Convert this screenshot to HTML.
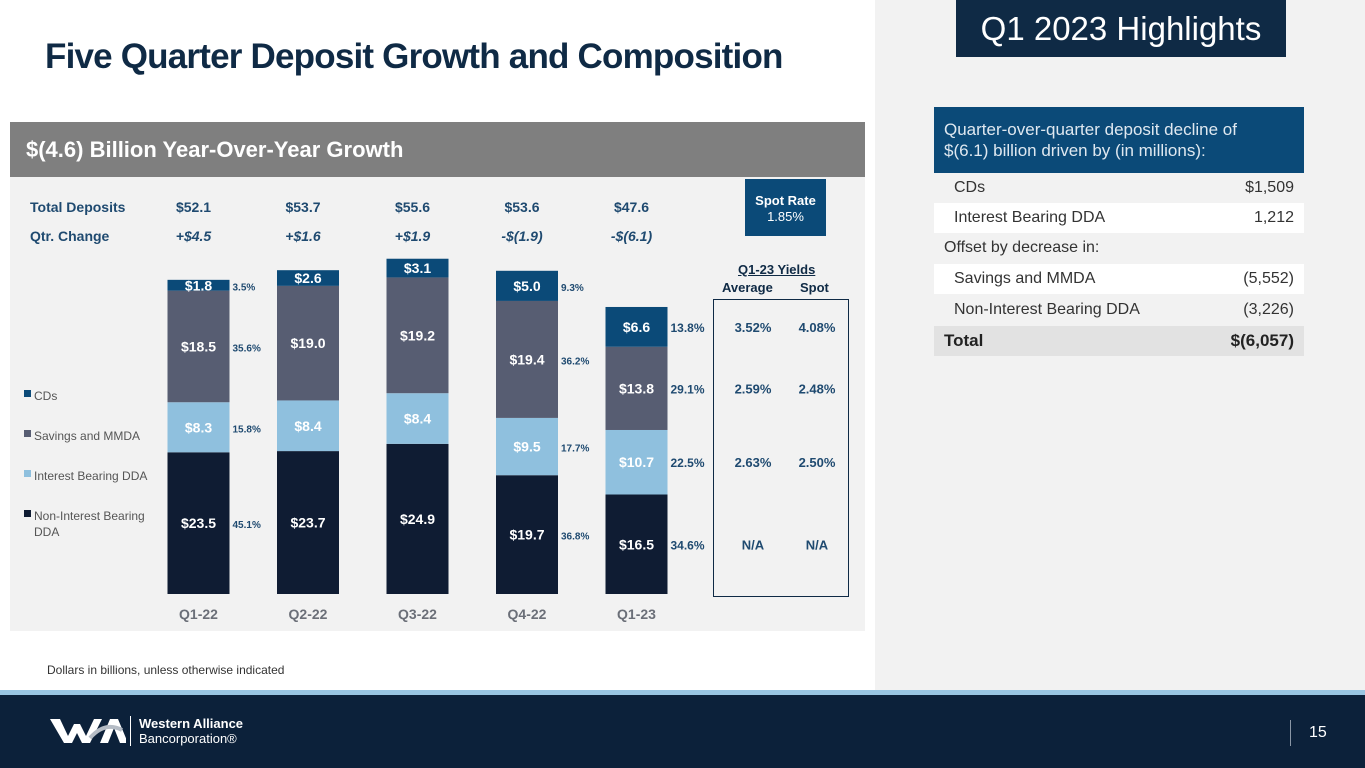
<!DOCTYPE html>
<html><head><meta charset="utf-8"><style>
*{margin:0;padding:0;box-sizing:border-box}
body{width:1365px;height:768px;overflow:hidden;background:#fff;font-family:"Liberation Sans",Arial,sans-serif;position:relative}
.a{position:absolute}
.rp{left:875px;top:0;width:490px;height:690px;background:#f2f2f2}
.row{position:absolute;left:934px;width:370px;height:30px;font-size:16px;color:#333;line-height:30px}
.row span.r{position:absolute;right:10px}
</style></head><body>
<div class="a rp"></div>
<div class="a" style="left:956px;top:0;width:330px;height:57px;background:#0f2a45;color:#fff;font-size:33px;line-height:57px;text-align:center">Q1 2023 Highlights</div>
<div class="a" style="left:45px;top:37px;font-size:35px;font-weight:bold;color:#0f2a45;letter-spacing:-0.8px">Five Quarter Deposit Growth and Composition</div>

<div class="a" style="left:10px;top:122px;width:855px;height:509px;background:#f2f2f2"></div>
<div class="a" style="left:10px;top:122px;width:855px;height:55px;background:#7f7f7f;color:#fff;font-size:22px;font-weight:bold;line-height:55px;padding-left:16px">$(4.6) Billion Year-Over-Year Growth</div>

<div class="a" style="left:745px;top:179px;width:81px;height:57px;background:#0b4a78;color:#fff;text-align:center;font-size:13px;padding-top:14px;line-height:16px"><b>Spot Rate</b><br>1.85%</div>
<div class="a" style="left:738px;top:262px;font-size:13px;font-weight:bold;color:#0f2a45;text-decoration:underline">Q1-23 Yields</div>
<div class="a" style="left:722px;top:280px;font-size:13px;font-weight:bold;color:#0f2a45">Average</div>
<div class="a" style="left:800px;top:280px;font-size:13px;font-weight:bold;color:#0f2a45">Spot</div>
<div class="a" style="left:713px;top:299px;width:136px;height:298px;border:1.5px solid #0f2a45"></div>

<svg class="a" style="left:0;top:0" width="875" height="690" id="chart"></svg>

<div class="row" style="top:107px;height:66px;background:#0b4a78;color:#dfe8f0;font-size:17px;line-height:21px;padding:12px 50px 12px 10px">Quarter-over-quarter deposit decline of $(6.1) billion driven by (in millions):</div>
<div class="row" style="top:173px;padding-left:20px">CDs<span class="r">$1,509</span></div>
<div class="row" style="top:203px;padding-left:20px;background:#fff">Interest Bearing DDA<span class="r">1,212</span></div>
<div class="row" style="top:233px;padding-left:10px">Offset by decrease in:</div>
<div class="row" style="top:264px;padding-left:20px;background:#fff">Savings and MMDA<span class="r">(5,552)</span></div>
<div class="row" style="top:295px;padding-left:20px">Non-Interest Bearing DDA<span class="r">(3,226)</span></div>
<div class="row" style="top:326px;padding-left:10px;background:#e2e2e2;font-weight:bold;color:#222;font-size:17px">Total<span class="r">$(6,057)</span></div>

<div class="a" style="left:47px;top:663px;font-size:12px;color:#333">Dollars in billions, unless otherwise indicated</div>
<div class="a" style="left:0;top:690px;width:1365px;height:5px;background:#9ac6e2"></div>
<div class="a" style="left:0;top:695px;width:1365px;height:73px;background:#0c213a"></div>
<svg class="a" style="left:50px;top:716px" width="76" height="30">
<polygon points="0,3 10,3 18,20 24,8 30,8 36,20 44,3 52,3 40,27 32,27 27,17 22,27 14,27" fill="#fff"/>
<polygon points="50,27 60,3 68,3 78,27 70,27 64,12 58,27" fill="#fff"/>
<path d="M40,22 Q55,5 72,14" stroke="#b5bcc5" stroke-width="4" fill="none"/>
</svg>
<div class="a" style="left:130px;top:716px;width:1px;height:30px;background:#fff"></div>
<div class="a" style="left:139px;top:716px;color:#fff;font-size:13px;line-height:15px"><b>Western Alliance</b><br>Bancorporation®</div>
<div class="a" style="left:1290px;top:720px;width:1px;height:26px;background:#8a96a5"></div>
<div class="a" style="left:1309px;top:724px;color:#fff;font-size:16px">15</div>

<script>
const quarters=["Q1-22","Q2-22","Q3-22","Q4-22","Q1-23"];
const totals=["$52.1","$53.7","$55.6","$53.6","$47.6"];
const changes=["+$4.5","+$1.6","+$1.9","-$(1.9)","-$(6.1)"];
const nib=[23.5,23.7,24.9,19.7,16.5];
const ibdda=[8.3,8.4,8.4,9.5,10.7];
const savings=[18.5,19.0,19.2,19.4,13.8];
const cds=[1.8,2.6,3.1,5.0,6.6];
const pctNib=["45.1%","","","36.8%","34.6%"];
const pctIb=["15.8%","","","17.7%","22.5%"];
const pctSav=["35.6%","","","36.2%","29.1%"];
const pctCd=["3.5%","","","9.3%","13.8%"];
const yieldAvg=["N/A","2.63%","2.59%","3.52%"];
const yieldSpot=["N/A","2.50%","2.48%","4.08%"];
const seriesNames=["CDs","Savings and MMDA","Interest Bearing DDA","Non-Interest Bearing DDA"];
const colors=["#0b4a78","#575d72","#8fc0de","#0f1c33"];
const ns="http://www.w3.org/2000/svg",svg=document.getElementById("chart");
const base=594,scale=6.03;
const y=v=>base-v*scale;
const xc=i=>198.5+i*109.5;
const bw=62;
function mk(t,a,txt){const e=document.createElementNS(ns,t);for(const k in a)e.setAttribute(k,a[k]);if(txt!==undefined)e.textContent=txt;svg.appendChild(e);return e;}
const F='"Liberation Sans",Arial,sans-serif';
let e=mk("text",{x:30,y:212,"font-size":14,"font-weight":"bold",fill:"#1f4a70","font-family":F},"Total Deposits");


e=mk("text",{x:30,y:241,"font-size":14,"font-weight":"bold",fill:"#1f4a70","font-family":F},"Qtr. Change");


const stacks=[nib,ibdda,savings,cds],pcts=[pctNib,pctIb,pctSav,pctCd],cidx=[3,2,1,0];
quarters.forEach((q,i)=>{
  let t=mk("text",{x:xc(i)-5,y:212,"font-size":14,"font-weight":"bold",fill:"#1f4a70","text-anchor":"middle","font-family":F},totals[i]);
  
  
  t=mk("text",{x:xc(i)-5,y:241,"font-size":14,"font-weight":"bold","font-style":"italic",fill:"#1f4a70","text-anchor":"middle","font-family":F},changes[i]);
  
  
  let cum=0;
  stacks.forEach((s,k)=>{
    const v=s[i],top=y(cum+v),h=v*scale;
    const r=mk("rect",{x:xc(i)-bw/2,y:top,width:bw,height:h,fill:colors[cidx[k]]});
    
    
    const ty=top+h/2+5;
    const l=mk("text",{x:xc(i),y:ty,"font-size":14,"font-weight":"bold",fill:"#fff","text-anchor":"middle","font-family":F},"$"+v.toFixed(1));
    
    
    if(pcts[k][i]){
      const p=mk("text",{x:xc(i)+(i==4?51:34),y:ty,"font-size":i==4?12:10,"font-weight":"bold",fill:"#1f4a70","text-anchor":"start","font-family":F},pcts[k][i]);
      if(i==4)p.setAttribute("text-anchor","middle");
      
      
    }
    if(i==4){
      let a=mk("text",{x:753,y:ty,"font-size":13,"font-weight":"bold",fill:"#1f4a70","text-anchor":"middle","font-family":F},yieldAvg[k]);
      
      
      a=mk("text",{x:817,y:ty,"font-size":13,"font-weight":"bold",fill:"#1f4a70","text-anchor":"middle","font-family":F},yieldSpot[k]);
      
      
    }
    cum+=v;
  });
  const xl=mk("text",{x:xc(i),y:619,"font-size":14,"font-weight":"bold",fill:"#6b6f78","text-anchor":"middle","font-family":F},q);
  
  
});
const legY=[396,436,476,516];
seriesNames.forEach((n,k)=>{
  const r=mk("rect",{x:24,y:legY[k]-6,width:7,height:7,fill:colors[k]});
  
  
  if(k==3){
    let t=mk("text",{x:34,y:legY[k]+4,"font-size":12,fill:"#555","font-family":F},"Non-Interest Bearing");
    
    
    t=mk("text",{x:34,y:legY[k]+20,"font-size":12,fill:"#555","font-family":F},"DDA");
    
    
  }else{
    const t=mk("text",{x:34,y:legY[k]+4,"font-size":12,fill:"#555","font-family":F},n);
    
    
  }
});
</script>
</body></html>
